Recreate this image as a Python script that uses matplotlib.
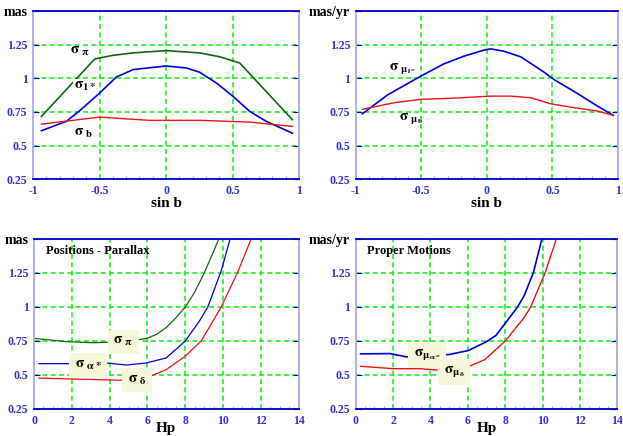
import matplotlib.pyplot as plt
import matplotlib as mpl
from matplotlib.ticker import MultipleLocator, FormatStrFormatter

mpl.rcParams['font.family'] = 'Liberation Serif'
mpl.rcParams['font.weight'] = 'bold'
mpl.rcParams['mathtext.fontset'] = 'stix'
mpl.rcParams['mathtext.default'] = 'rm'
mpl.rcParams['axes.unicode_minus'] = False

# --- top left: positions / parallax vs sin b
sinb_pi = [-0.937, -0.536, -0.40, -0.248, 0.0, 0.253, 0.40, 0.554, 0.95]
sig_pi_b = [0.716, 1.143, 1.17, 1.188, 1.205, 1.188, 1.16, 1.113, 0.692]
sinb_l = [-0.937, -0.749, -0.649, -0.549, -0.499, -0.373, -0.248, 0.0, 0.153,
          0.253, 0.378, 0.504, 0.629, 0.754, 0.95]
sig_l_b = [0.61, 0.68, 0.759, 0.846, 0.89, 1.009, 1.064, 1.091, 1.076,
           1.044, 0.965, 0.865, 0.754, 0.679, 0.592]
sinb_bb = [-0.937, -0.499, -0.123, 0.253, 0.629, 0.95]
sig_bb = [0.659, 0.711, 0.687, 0.687, 0.674, 0.642]

# --- top right: proper motions vs sin b
sinb_mul = [-0.949, -0.759, -0.505, -0.327, -0.174, -0.022, 0.029, 0.131,
            0.258, 0.436, 0.512, 0.69, 0.843, 0.965]
sig_mul = [0.736, 0.875, 1.015, 1.107, 1.164, 1.209, 1.218, 1.2,
           1.159, 1.045, 0.99, 0.887, 0.793, 0.724]
sinb_mub = [-0.949, -0.708, -0.505, -0.25, 0.029, 0.182, 0.334, 0.487,
            0.665, 0.843, 0.965]
sig_mub = [0.769, 0.818, 0.843, 0.852, 0.867, 0.867, 0.855, 0.81,
           0.781, 0.756, 0.724]

# --- bottom left: positions / parallax vs Hp
hp_pi = [0.03, 1.7, 3.1, 4.9, 6.0, 6.5, 7.0, 7.5, 8.0, 8.5, 9.0, 9.5, 9.8]
sig_pi_hp = [0.769, 0.745, 0.737, 0.745, 0.77, 0.80, 0.85, 0.92, 1.0,
             1.11, 1.25, 1.41, 1.51]
hp_a = [0.26, 2.06, 3.0, 3.82, 4.88, 5.93, 6.99, 8.0, 8.75, 9.19, 9.9, 10.39]
sig_a = [0.583, 0.583, 0.59, 0.588, 0.573, 0.588, 0.625, 0.75, 0.897,
         1.0, 1.267, 1.51]
hp_d = [0.26, 3.47, 4.88, 5.93, 6.99, 8.0, 8.84, 9.9, 10.77, 11.51]
sig_d = [0.477, 0.465, 0.46, 0.477, 0.539, 0.638, 0.75, 1.0, 1.255, 1.51]

# --- bottom right: proper motions vs Hp
hp_ma = [0.26, 1.84, 2.71, 3.94, 4.99, 6.04, 7.0, 7.5, 8.0, 8.66, 9.0,
         9.5, 9.98]
sig_ma = [0.655, 0.657, 0.633, 0.648, 0.65, 0.68, 0.745, 0.79, 0.88, 1.0,
          1.08, 1.25, 1.51]
hp_md = [0.26, 2.01, 3.41, 4.64, 5.86, 6.91, 8.0, 9.01, 9.36, 10.13, 10.76]
sig_md = [0.564, 0.546, 0.546, 0.534, 0.551, 0.613, 0.75, 0.922, 1.0,
          1.25, 1.51]

yticks = [0.25, 0.5, 0.75, 1.0, 1.25, 1.5]

TICKC = '#3030d0'
GRIDC = '#22ee22'
BOXC = '#f6f6d8'


def style(ax, xlim, xstep, xminor, unit, xlabel, lpad=0):
    ax.set_ylim(0.25, 1.5)
    ax.set_xlim(*xlim)
    ax.set_yticks(yticks)
    ax.set_yticklabels(['0.25', '0.5', '0.75', '1', '1.25', unit])
    ax.xaxis.set_major_locator(MultipleLocator(xstep))
    ax.xaxis.set_minor_locator(MultipleLocator(xminor))
    ax.xaxis.set_major_formatter(FormatStrFormatter('%g'))
    ax.tick_params(axis='both', which='major', direction='in', length=4,
                   color='#0000bb', labelcolor=TICKC, labelsize=8.5,
                   top=False, right=True, pad=4)
    lab = ax.get_yticklabels()[-1]
    lab.set_color('black')
    lab.set_fontsize(10)
    ax.tick_params(axis='x', which='minor', direction='in', length=2.5,
                   color='#9999dd', top=False)
    ax.tick_params(axis='x', which='major', length=0)
    ax.grid(True, which='major', color=GRIDC, linestyle=(0, (3, 2)),
            linewidth=1.2)
    for s in ['top', 'bottom']:
        ax.spines[s].set_color('#0000cc')
        ax.spines[s].set_linewidth(1.3)
    for s in ['left', 'right']:
        ax.spines[s].set_color('#aaaaee')
        ax.spines[s].set_linewidth(1.3)
    ax.set_xlabel(xlabel, fontsize=11, fontweight='bold', labelpad=lpad)


fig = plt.figure(figsize=(6.23, 4.36), dpi=100)
ax1 = fig.add_axes([0.053, 0.589, 0.427, 0.386])
ax2 = fig.add_axes([0.571, 0.589, 0.421, 0.386])
ax3 = fig.add_axes([0.0546, 0.062, 0.425, 0.39])
ax4 = fig.add_axes([0.571, 0.062, 0.42, 0.39])

# top left
ax1.plot(sinb_pi, sig_pi_b, color='#116611', lw=1.2)
ax1.plot(sinb_l, sig_l_b, color='#0000dd', lw=1.2)
ax1.plot(sinb_bb, sig_bb, color='#ee1111', lw=1.0)
ax1.text(-0.72, 1.18, r'$\sigma_{\ \pi}$', fontsize=11)
ax1.text(-0.69, 0.92, r'$\sigma_{1*}$', fontsize=11,
         bbox=dict(facecolor='white', edgecolor='none', pad=0.5))
ax1.text(-0.69, 0.57, r'$\sigma_{\ b}$', fontsize=11)
style(ax1, (-1, 1), 0.5, 0.1, 'mas', 'sin b')

# top right
ax2.plot(sinb_mul, sig_mul, color='#0000dd', lw=1.2)
ax2.plot(sinb_mub, sig_mub, color='#ee1111', lw=1.0)
ax2.text(-0.75, 1.06, r'$\sigma_{\ \mu_{l*}}$', fontsize=11)
ax2.text(-0.67, 0.69, r'$\sigma_{\ \mu_b}$', fontsize=11)
style(ax2, (-1, 1), 0.5, 0.1, 'mas/yr', 'sin b')

# bottom left
ax3.plot(hp_pi, sig_pi_hp, color='#116611', lw=0.9)
ax3.plot(hp_a, sig_a, color='#0000dd', lw=0.9)
ax3.plot(hp_d, sig_d, color='#ee1111', lw=0.9)
ax3.text(4.2, 0.725, r'$\sigma_{\ \pi}$', fontsize=11,
         bbox=dict(facecolor=BOXC, edgecolor='none', pad=4))
ax3.text(2.15, 0.555, r'$\sigma_{\ \alpha*}$', fontsize=11,
         bbox=dict(facecolor=BOXC, edgecolor='none', pad=4))
ax3.text(4.95, 0.445, r'$\sigma_{\ \delta}$', fontsize=11,
         bbox=dict(facecolor=BOXC, edgecolor='none', pad=4))
ax3.text(0.65, 1.39, 'Positions - Parallax', fontsize=9)
style(ax3, (0, 14), 2, 0.5, 'mas', 'Hp', lpad=-3)

# bottom right
ax4.plot(hp_ma, sig_ma, color='#0000dd', lw=1.2)
ax4.plot(hp_md, sig_md, color='#ee1111', lw=1.0)
ax4.text(3.1, 0.64, r'$\sigma_{\mu_{\alpha*}}$', fontsize=11,
         bbox=dict(facecolor=BOXC, edgecolor='none', pad=4))
ax4.text(4.7, 0.515, r'$\sigma_{\mu_\delta}$', fontsize=11,
         bbox=dict(facecolor=BOXC, edgecolor='none', pad=4))
ax4.text(0.6, 1.39, 'Proper Motions', fontsize=9)
style(ax4, (0, 14), 2, 0.5, 'mas/yr', 'Hp', lpad=-3)

plt.savefig('out.png', dpi=100)
